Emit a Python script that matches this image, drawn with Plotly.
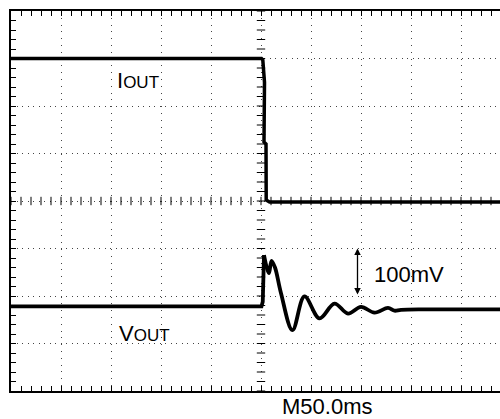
import numpy as np
import plotly.graph_objects as go

# time in divisions (M50.0ms per div), amplitude in divisions
iout_t = [0.0, 5.01, 5.036, 5.07, 5.06, 5.10, 5.104, 5.17, 10.0]
iout_v = [3.0, 3.0, 2.97, 2.5, 1.24, 1.2, 0.02, -0.02, -0.02]

vout_t = [0.0, 5.01, 5.035, 5.05, 5.06, 5.12, 5.16, 5.21, 5.28, 5.40, 5.63,
          5.87, 6.17, 6.47, 6.74, 7.00, 7.27, 7.54, 7.67, 7.80, 8.3, 10.0]
vout_v = [-2.22, -2.22, -2.12, -1.25, -1.14, -1.42, -1.52, -1.26, -1.40, -1.94, -2.72,
          -2.01, -2.47, -2.16, -2.37, -2.23, -2.35, -2.25, -2.31, -2.29, -2.28, -2.28]
step_end = 5  # first ringing peak: straight segments before, smooth after

font = "Liberation Sans, Arial, sans-serif"
sub = "<span style='font-size:17px'>OUT</span>"

fig = go.Figure()

# centre graticule cross-ticks
tick_marker = dict(size=6, color="black", line=dict(width=1, color="black"))
fig.add_trace(go.Scatter(
    x=np.arange(0, 10.01, 0.2), y=np.zeros(51), mode="markers",
    marker=dict(symbol="line-ns-open", **tick_marker),
    hoverinfo="skip", showlegend=False,
))
fig.add_trace(go.Scatter(
    x=np.full(41, 5.0), y=np.arange(-4, 4.01, 0.2), mode="markers",
    marker=dict(symbol="line-ew-open", **tick_marker),
    hoverinfo="skip", showlegend=False,
))

fig.add_trace(go.Scatter(
    x=iout_t, y=iout_v, mode="lines",
    line=dict(color="black", width=3.5), showlegend=False,
))
fig.add_trace(go.Scatter(
    x=vout_t[:step_end], y=vout_v[:step_end], mode="lines",
    line=dict(color="black", width=3.8), showlegend=False,
))
fig.add_trace(go.Scatter(
    x=vout_t[step_end - 1:], y=vout_v[step_end - 1:], mode="lines",
    line=dict(color="black", width=3.8, shape="spline", smoothing=1.0),
    showlegend=False,
))

fig.add_annotation(x=2.07, y=2.53, text="I" + sub, showarrow=False,
                   xanchor="left", yanchor="middle", font=dict(size=22))
fig.add_annotation(x=2.11, y=-2.78, text="V" + sub, showarrow=False,
                   xanchor="left", yanchor="middle", font=dict(size=22))
fig.add_annotation(x=7.21, y=-1.55, text="100mV", showarrow=False,
                   xanchor="left", yanchor="middle", font=dict(size=22))
fig.add_annotation(x=6.31, y=-0.04, yref="paper", text="M50.0ms",
                   showarrow=False, xanchor="center", yanchor="middle",
                   font=dict(size=22))
# 1-division amplitude marker
fig.add_annotation(x=6.93, y=-1.0, ax=6.93, ay=-2.0, xref="x", yref="y",
                   axref="x", ayref="y", text="", showarrow=True,
                   arrowhead=2, arrowside="end+start", arrowsize=1,
                   arrowwidth=1.3, arrowcolor="black")

axis_common = dict(
    showline=True, linecolor="black", linewidth=2,
    showticklabels=False, ticks="inside", ticklen=5, tickwidth=1,
    tickcolor="black", dtick=1, tick0=0,
    showgrid=True, gridcolor="#444", gridwidth=1,
    zeroline=False, fixedrange=True,
    minor=dict(dtick=0.2, ticks="inside", ticklen=5, tickwidth=1,
               tickcolor="black", showgrid=False),
)

fig.update_xaxes(range=[0, 9.78], mirror="allticks", griddash="1px,5.8px",
                 **axis_common)
fig.update_yaxes(range=[-4, 4], mirror=False, griddash="1px,4.5px",
                 **axis_common)

fig.update_layout(
    width=500, height=419,
    margin=dict(l=11, r=0, t=11, b=28),
    plot_bgcolor="white", paper_bgcolor="white",
    font=dict(family=font, color="black", size=22),
    showlegend=False,
)

fig.write_html("out.html", config={"displayModeBar": False},
               post_script="document.body.style.margin='0';")
